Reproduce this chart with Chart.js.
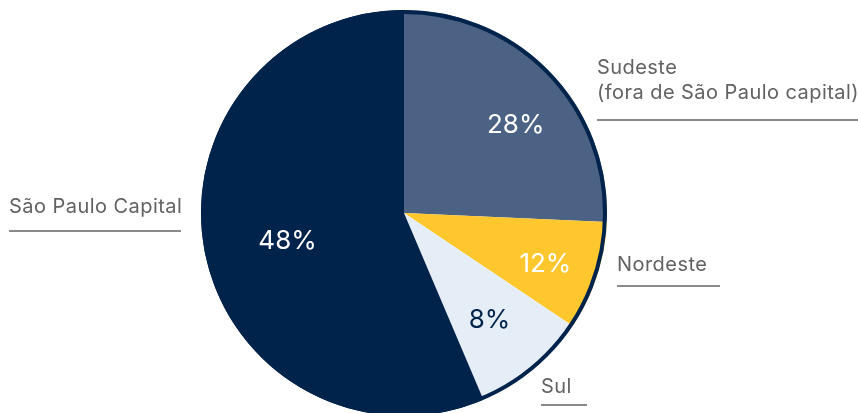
<!DOCTYPE html>
<html>
<head>
<meta charset="utf-8">
<script src="https://cdn.jsdelivr.net/npm/chart.js@4"></script>
<style>
  html,body{margin:0;padding:0;background:#fff;overflow:hidden;}
  #wrap{width:858px;height:430px;}
</style>
</head>
<body>
<div id="wrap"><canvas id="pie" width="858" height="430"></canvas></div>
<script>
// data (slice sizes as drawn, label text as printed)
const regions = ['Sudeste\n(fora de São Paulo capital)', 'Nordeste', 'Sul', 'São Paulo Capital'];
const shares = [25.7, 8.7, 9.2, 56.4];
const pctLabels = ['28%', '12%', '8%', '48%'];
const colors = ['#4b6284', '#ffc72e', '#e5edf7', '#00234b'];
const pctColors = ['#ffffff', '#ffffff', '#00234b', '#ffffff'];

const FONT = 'Inter, "Liberation Sans", sans-serif';

// where the % text sits inside each slice: t = fraction along the arc, rf = fraction of radius
const pctPlace = [{t:0.56, rf:0.70}, {t:0.55, rf:0.74}, {t:0.53, rf:0.675}, {t:0.49, rf:0.59}];
// outside captions: text anchor + underline
const captions = [
  {x:597, y:74, lh:25, lineY:120, x2:858},
  {x:617, y:271, lh:25, lineY:286, x2:720},
  {x:541, y:393, lh:25, lineY:405, x2:587},
  {x:9, y:213, lh:25, lineY:231, x2:181}
];

const decor = {
  id:'decor',
  afterDatasetsDraw(chart){
    const c = chart.ctx;
    const arcs = chart.getDatasetMeta(0).data;
    const a0 = arcs[0];
    // navy outline round the pie
    c.save();
    c.beginPath();
    c.arc(a0.x, a0.y, a0.outerRadius - 2, 0, Math.PI*2);
    c.lineWidth = 4;
    c.strokeStyle = '#00234b';
    c.stroke();

    // percentages
    c.font = '400 26px ' + FONT;
    c.textAlign = 'center';
    c.textBaseline = 'middle';
    arcs.forEach((a,i)=>{
      const p = pctPlace[i];
      const ang = a.startAngle + (a.endAngle - a.startAngle)*p.t;
      const r = a.outerRadius*p.rf;
      c.fillStyle = pctColors[i];
      c.fillText(pctLabels[i], a.x + Math.cos(ang)*r, a.y + Math.sin(ang)*r);
    });

    // captions with underline
    c.font = '400 20px ' + FONT;
    c.letterSpacing = '0.45px';
    c.textAlign = 'left';
    c.textBaseline = 'alphabetic';
    regions.forEach((txt,i)=>{
      const cp = captions[i];
      c.fillStyle = '#626262';
      txt.split('\n').forEach((ln,k)=> c.fillText(ln, cp.x, cp.y + k*cp.lh));
      c.beginPath();
      c.moveTo(cp.x, cp.lineY);
      c.lineTo(cp.x2, cp.lineY);
      c.lineWidth = 2;
      c.strokeStyle = '#8a8a8a';
      c.stroke();
    });
    c.restore();
  }
};

new Chart(document.getElementById('pie').getContext('2d'), {
  type:'pie',
  data:{labels:regions, datasets:[{data:shares, backgroundColor:colors, borderWidth:0}]},
  options:{
    responsive:false,
    animation:false,
    events:[],
    layout:{padding:{left:201, right:251, top:10, bottom:14}},
    plugins:{legend:{display:false}, tooltip:{enabled:false}}
  },
  plugins:[decor]
});
</script>
</body>
</html>
